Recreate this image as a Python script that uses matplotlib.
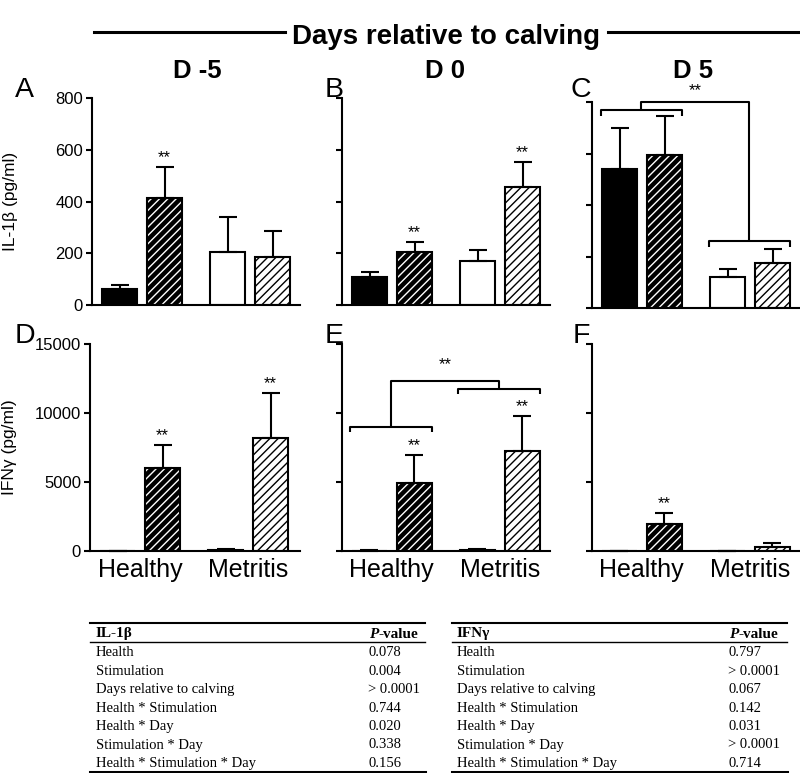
import numpy as np
import matplotlib.pyplot as plt

plt.rcParams['font.family'] = ['Liberation Sans', 'DejaVu Sans']
plt.rcParams['hatch.linewidth'] = 1.0

W, H = 800, 773

# =========================
# data
# bar order: Healthy, Healthy+stim, Metritis, Metritis+stim
# =========================
days = ["D -5", "D 0", "D 5"]
groups = ["Healthy", "Metritis"]
panel_letters = ["A", "B", "C", "D", "E", "F"]

il1b_dm5 = [62, 413, 204, 187]
il1b_dm5_sem = [17, 122, 135, 101]
il1b_d0 = [110, 206, 170, 456]
il1b_d0_sem = [19, 39, 43, 99]
il1b_d5 = [541, 595, 120, 175]
il1b_d5_sem = [160, 152, 34, 55]

ifng_dm5 = [0, 6040, 40, 8210]
ifng_dm5_sem = [0, 1640, 90, 3220]
ifng_d0 = [20, 4906, 60, 7270]
ifng_d0_sem = [30, 2050, 70, 2510]
ifng_d5 = [10, 1957, 10, 312]
ifng_d5_sem = [25, 770, 25, 290]

il1b_dm5_sig = [0, 1, 0, 0]
il1b_d0_sig = [0, 1, 0, 1]
il1b_d5_sig = [0, 0, 0, 0]
ifng_dm5_sig = [0, 1, 0, 1]
ifng_d0_sig = [0, 1, 0, 1]
ifng_d5_sig = [0, 1, 0, 0]

# health-group brackets: (left level, right level, top level, tick length, star level)
il1b_d5_bracket = [770, 261, 802, 23, 845]
ifng_d0_bracket = [8964, 11740, 12341, 330, 13478]

factors = [
    "Health",
    "Stimulation",
    "Days relative to calving",
    "Health * Stimulation",
    "Health * Day",
    "Stimulation * Day",
    "Health * Stimulation * Day",
]
il1b_p = ["0.078", "0.004", "> 0.0001", "0.744", "0.020", "0.338", "0.156"]
ifng_p = ["0.797", "> 0.0001", "0.067", "0.142", "0.031", "> 0.0001", "0.714"]

pos = np.array([0, 1, 2.4, 3.4])
width = 0.78
styles = ["solid", "dark", "open", "light"]


def px_axes(fig, l, t, r, b):
    return fig.add_axes([l / W, 1 - b / H, (r - l) / W, (b - t) / H])


def draw_panel(ax, means, sems, sig, ymax, yticks, tick_labels, xlabels):
    for x, m, st in zip(pos, means, styles):
        if st == "solid":
            ax.bar(x, m, width, color="black", edgecolor="black", lw=1.5)
        elif st == "open":
            ax.bar(x, m, width, color="white", edgecolor="black", lw=1.5)
        elif st == "dark":
            ax.bar(x, m, width, color="black", edgecolor="white",
                   hatch="////", lw=0)
            ax.bar(x, m, width, fill=False, edgecolor="black", lw=1.5)
        else:
            ax.bar(x, m, width, color="white", edgecolor="black",
                   hatch="////", lw=1.5)

    ax.errorbar(pos, means, yerr=[np.zeros(4), sems], fmt="none",
                ecolor="black", elinewidth=1.5, capsize=6.5, capthick=1.5,
                zorder=3, clip_on=False)

    for x, m, s, flag in zip(pos, means, sems, sig):
        if flag:
            ax.annotate("**", (x, m + s), xytext=(0, 3.5),
                        textcoords="offset points", ha="center",
                        va="baseline", fontsize=12)

    w_px = ax.get_position().width * W
    ax.set_xlim(-27.5 / 45, (w_px - 27.5) / 45)
    ax.set_ylim(0, ymax)
    ax.set_yticks(yticks)
    if not tick_labels:
        ax.set_yticklabels([])
    for side in ["top", "right"]:
        ax.spines[side].set_visible(False)
    for side in ["left", "bottom"]:
        ax.spines[side].set_linewidth(1.5)
    ax.tick_params(axis="y", length=4.5, width=1.5, labelsize=12, pad=2)
    if xlabels:
        ax.set_xticks([(pos[0] + pos[1]) / 2, (pos[2] + pos[3]) / 2])
        ax.set_xticklabels(groups, fontsize=18)
        ax.tick_params(axis="x", length=0, pad=5)
    else:
        ax.set_xticks([])


def draw_bracket(ax, levels):
    left, right, top, tick, star = levels
    l0, l1 = pos[0] - width / 2 - 0.03, pos[1] + width / 2
    r0, r1 = pos[2] - width / 2 - 0.03, pos[3] + width / 2
    lm, rm = (l0 + l1) / 2, (r0 + r1) / 2
    kw = dict(color="black", lw=1.5, clip_on=False, solid_capstyle="butt")
    ax.plot([l0, l0, l1, l1], [left - tick, left, left, left - tick], **kw)
    ax.plot([r0, r0, r1, r1], [right - tick, right, right, right - tick], **kw)
    ax.plot([lm, lm, rm, rm], [left, top, top, right], **kw)
    ax.text((lm + rm) / 2, star, "**", ha="center", va="center", fontsize=12)


fig = plt.figure(figsize=(W / 100, H / 100), dpi=100)

ax_a = px_axes(fig, 92, 98.3, 300, 305)
ax_b = px_axes(fig, 342, 98.3, 550, 305)
ax_c = px_axes(fig, 592, 102.3, 800, 308.3)
ax_d = px_axes(fig, 90, 344, 300, 551)
ax_e = px_axes(fig, 341.7, 344, 550, 551)
ax_f = px_axes(fig, 591.7, 344, 800, 551)

il1b_ticks = [0, 200, 400, 600, 800]
ifng_ticks = [0, 5000, 10000, 15000]

draw_panel(ax_a, il1b_dm5, il1b_dm5_sem, il1b_dm5_sig, 800, il1b_ticks, True, False)
draw_panel(ax_b, il1b_d0, il1b_d0_sem, il1b_d0_sig, 800, il1b_ticks, False, False)
draw_panel(ax_c, il1b_d5, il1b_d5_sem, il1b_d5_sig, 800, il1b_ticks, False, False)
draw_panel(ax_d, ifng_dm5, ifng_dm5_sem, ifng_dm5_sig, 15000, ifng_ticks, True, True)
draw_panel(ax_e, ifng_d0, ifng_d0_sem, ifng_d0_sig, 15000, ifng_ticks, False, True)
draw_panel(ax_f, ifng_d5, ifng_d5_sem, ifng_d5_sig, 15000, ifng_ticks, False, True)

draw_bracket(ax_c, il1b_d5_bracket)
draw_bracket(ax_e, ifng_d0_bracket)

ax_a.text((11 - 92) / 208, 0.5, "IL-1β (pg/ml)", rotation=90, ha="center",
          va="center", fontsize=12.5, transform=ax_a.transAxes)
ax_d.text((10 - 90) / 210, 0.5, "IFNγ (pg/ml)", rotation=90, ha="center",
          va="center", fontsize=12.5, transform=ax_d.transAxes)

# =========================
# overlay: titles, letters, tables (pixel coordinates)
# =========================
ov = fig.add_axes([0, 0, 1, 1])
ov.set_xlim(0, W)
ov.set_ylim(H, 0)
ov.axis("off")
ov.set_facecolor("none")

ov.text(446, 43.5, "Days relative to calving", ha="center", va="baseline",
        fontsize=20, fontweight="bold")
ov.plot([94, 285], [32, 32], color="black", lw=2.2)
ov.plot([608, 800], [32, 32], color="black", lw=2.2)

for cx, label in zip([197, 445, 693], days):
    ov.text(cx, 78, label, ha="center", va="baseline", fontsize=18.5,
            fontweight="bold")

letter_xy = [(15, 97), (325, 97), (570, 97), (15, 343), (325, 343), (573, 343)]
for (lx, ly), letter in zip(letter_xy, panel_letters):
    ov.text(lx, ly, letter, ha="left", va="baseline", fontsize=20.5)

serif = ["Liberation Serif", "DejaVu Serif"]


def draw_table(x0, x1, xlab, xp, title, pvals):
    ov.plot([x0, x1], [622.7, 622.7], color="black", lw=1.5)
    ov.plot([x0, x1], [641.5, 641.5], color="black", lw=1.0)
    ov.plot([x0, x1], [771.8, 771.8], color="black", lw=2.2)
    ov.text(xlab, 637.5, title, family=serif, fontsize=11,
            fontweight="bold", va="baseline")
    ov.text(xp + 10, 637.5, "P", family=serif, fontsize=11,
            fontweight="bold", fontstyle="italic", ha="right", va="baseline")
    ov.text(xp + 10, 637.5, "-value", family=serif, fontsize=11,
            fontweight="bold", ha="left", va="baseline")
    for i, (f, p) in enumerate(zip(factors, pvals)):
        y = 656.5 + i * 18.4
        ov.text(xlab, y, f, family=serif, fontsize=10.5, va="baseline")
        ov.text(xp, y, p, family=serif, fontsize=10.5, va="baseline")


draw_table(90, 425, 96, 368.3, "IL-1β", il1b_p)
draw_table(452, 787, 457, 728.3, "IFNγ", ifng_p)

fig.savefig("out.png", dpi=100)
